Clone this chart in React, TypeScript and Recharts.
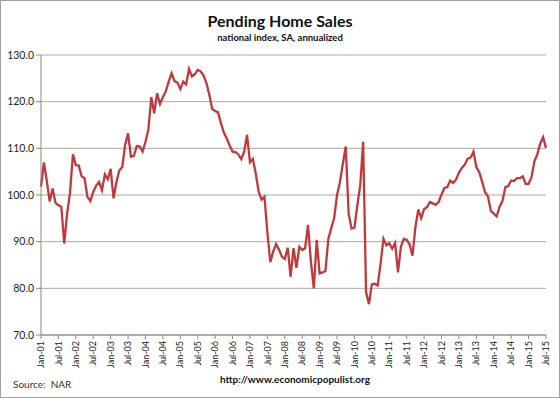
import { LineChart, Line, XAxis, YAxis, CartesianGrid } from 'recharts';

// Pending home sales index, monthly Jan-01 .. Jul-15
const y2001 = [101.8, 107, 103, 98.6, 101.4, 98.3, 97.8, 97.5, 89.6, 96, 100.5, 108.7];
const y2002 = [106.4, 106.3, 104, 103.6, 99.6, 98.7, 100.7, 102, 102.8, 101, 104.4, 103.4];
const y2003 = [105.6, 99.3, 102.8, 105.3, 106, 110.8, 113.2, 108.2, 108.4, 110.5, 110.4, 109.3];
const y2004 = [111.4, 114, 121, 117.5, 121.8, 119.5, 121, 122.2, 124.3, 126.1, 124.4, 124.1];
const y2005 = [122.7, 124.3, 123.7, 127, 125.4, 125.9, 126.8, 126.5, 125.6, 124, 121.5, 118.4];
const y2006 = [118, 117.7, 115.4, 113.4, 112.1, 110.6, 109.3, 109.2, 108.7, 107.7, 109.3, 112.9];
const y2007 = [107, 107.7, 104.6, 100.7, 99, 99.6, 92, 85.6, 87.9, 89.5, 88.3, 86.8];
const y2008 = [86.3, 88.7, 82.5, 88.6, 84.4, 88.9, 88.2, 88.6, 93.6, 85.7, 80, 90.4];
const y2009 = [83.2, 83.4, 83.7, 90.6, 92.9, 95, 100, 102.8, 106.7, 110.4, 96, 92.8];
const y2010 = [93, 97.8, 102.1, 111.4, 79.2, 76.6, 80.9, 81, 80.6, 85.3, 90.6, 89.2];
const y2011 = [89.7, 88.5, 89.7, 83.4, 88.9, 90.6, 90.4, 89.4, 87, 93.1, 96.9, 95];
const y2012 = [97, 97.4, 98.5, 98.2, 97.9, 98.5, 100.1, 101.5, 101.7, 103.1, 102.6, 103.3];
const y2013 = [104.8, 105.8, 106.5, 107.8, 108, 109.3, 106, 104.9, 102.8, 100.6, 99.7, 96.6];
const y2014 = [96, 95.4, 97.5, 98.7, 101.7, 101.9, 103.1, 103, 103.6, 103.6, 104, 102.4];
const y2015 = [102.4, 103.8, 107.2, 108.7, 111, 112.4, 110.1];

const pendingIndex = [
  ...y2001, ...y2002, ...y2003, ...y2004, ...y2005, ...y2006, ...y2007, ...y2008,
  ...y2009, ...y2010, ...y2011, ...y2012, ...y2013, ...y2014, ...y2015,
];

const xTickLabels = [
  'Jan-01', 'Jul-01', 'Jan-02', 'Jul-02', 'Jan-03', 'Jul-03', 'Jan-04', 'Jul-04',
  'Jan-05', 'Jul-05', 'Jan-06', 'Jul-06', 'Jan-07', 'Jul-07', 'Jan-08', 'Jul-08',
  'Jan-09', 'Jul-09', 'Jan-10', 'Jul-10', 'Jan-11', 'Jul-11', 'Jan-12', 'Jul-12',
  'Jan-13', 'Jul-13', 'Jan-14', 'Jul-14', 'Jan-15', 'Jul-15',
];
const yTicks = [70, 80, 90, 100, 110, 120, 130];

const data = pendingIndex.map((v, i) => ({ i, v }));
const xTicks = xTickLabels.map((_, k) => k * 6);

const FONT = 'Lato, "Open Sans", sans-serif';

const RotatedTick = ({ x, y, payload }: any) => (
  <text
    x={x}
    y={y}
    transform={`rotate(-90 ${x} ${y})`}
    textAnchor="end"
    dy="0.35em"
    fontSize={9}
    fontFamily={FONT}
    fill="#222"
  >
    {xTickLabels[payload.value / 6]}
  </text>
);

export default function App() {
  return (
    <div
      style={{
        position: 'absolute',
        left: 0,
        top: 0,
        width: 560,
        height: 398,
        boxSizing: 'border-box',
        border: '1px solid #a0a0a0',
        background: '#fff',
        fontFamily: FONT,
        color: '#111',
      }}
    >
      <div style={{ position: 'absolute', left: 0, width: 558, top: 10, textAlign: 'center', fontSize: 16, fontWeight: 700 }}>
        Pending Home Sales
      </div>
      <div style={{ position: 'absolute', left: 0, width: 558, top: 31, textAlign: 'center', fontSize: 9.5, fontWeight: 700 }}>
        national index, SA, annualized
      </div>
      <LineChart width={558} height={396} data={data} margin={{ top: 54, right: 13, left: 0, bottom: 27 }}>
        <CartesianGrid vertical={false} stroke="#a8a8a8" />
        <XAxis
          dataKey="i"
          type="number"
          domain={[0, 174]}
          ticks={xTicks}
          interval={0}
          height={35}
          tickSize={4}
          stroke="#888"
          tick={<RotatedTick />}
        />
        <YAxis
          domain={[70, 130]}
          ticks={yTicks}
          width={40}
          tickSize={5}
          stroke="#888"
          tick={{ fill: '#222', fontSize: 10.5, fontFamily: FONT }}
          tickFormatter={(v: number) => v.toFixed(1)}
        />
        <Line
          type="linear"
          dataKey="v"
          stroke="#c0393d"
          strokeWidth={2.3}
          dot={false}
          isAnimationActive={false}
        />
      </LineChart>
      <div style={{ position: 'absolute', left: 12, top: 377, fontSize: 10, color: '#333' }}>
        Source:&nbsp; NAR
      </div>
      <div style={{ position: 'absolute', left: 219, top: 372, fontSize: 10, fontWeight: 700 }}>
        http://www.economicpopulist.org
      </div>
    </div>
  );
}
